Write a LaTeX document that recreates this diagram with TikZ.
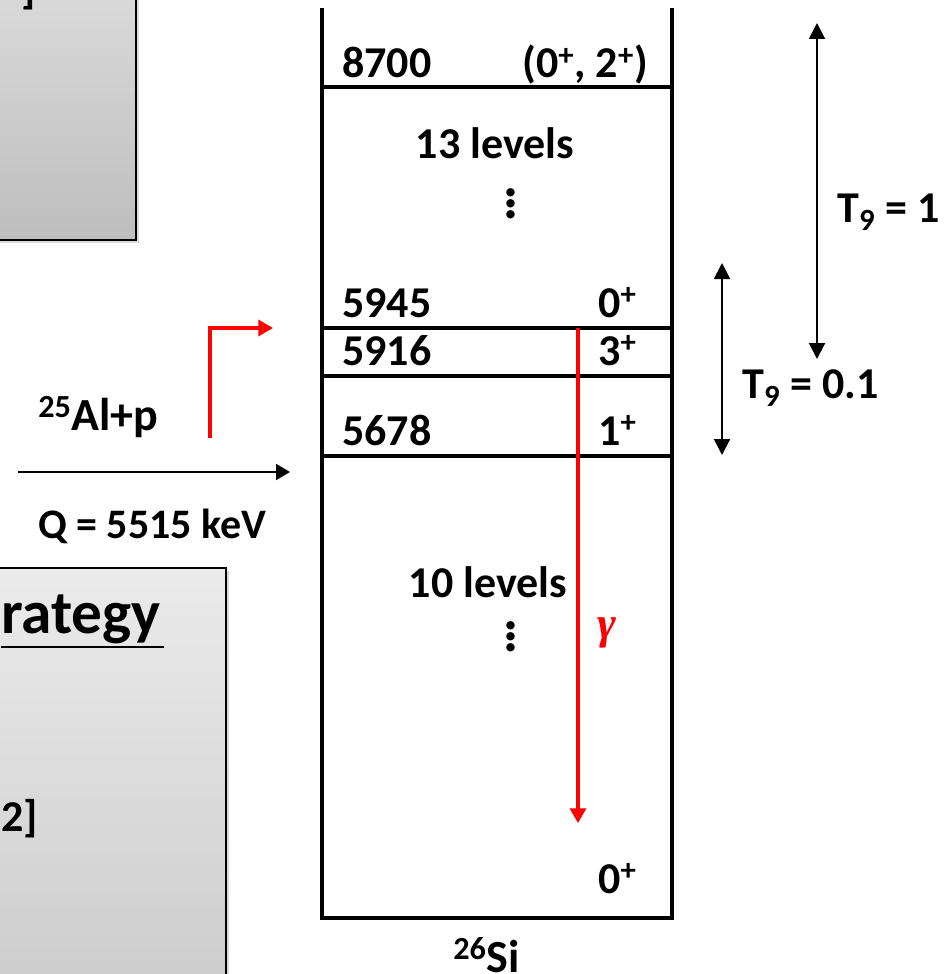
\documentclass[tikz,border=0pt]{standalone}
\usepackage{fontspec}
\setmainfont{Carlito}
\newfontfamily\gammafont{Liberation Serif}
\usetikzlibrary{arrows.meta, positioning, shadows}

\definecolor{panelA}{HTML}{DCDCDC}
\definecolor{panelB}{HTML}{BEBEBE}
\definecolor{panelC}{HTML}{EBEBEB}
\definecolor{panelD}{HTML}{CBCBCB}

\begin{document}
\begin{tikzpicture}[
    x=0.75pt, y=-0.75pt,
    lvl/.style={font=\fontsize{33}{38}\selectfont\bfseries, inner sep=0pt},
    big/.style={font=\fontsize{34.5}{40}\selectfont\bfseries, inner sep=0pt},
    note/.style={font=\fontsize{31.5}{36}\selectfont\bfseries, inner sep=0pt},
    temp/.style={font=\fontsize{33}{38}\selectfont\bfseries, inner sep=0pt},
    heading/.style={font=\fontsize{46}{52}\selectfont\bfseries, inner sep=0pt},
    vdotsbox/.style={font=\fontsize{42}{8.25}\selectfont\bfseries, inner sep=0pt, align=center},
    panel/.style={draw=black, line width=1.5pt, drop shadow={shadow xshift=2pt, shadow yshift=-2pt, opacity=0.3}},
    levelline/.style={line width=3pt},
    arrow/.style={line width=1.5pt, -{Triangle[length=10.5pt, width=12pt]}},
    spanarrow/.style={line width=1.5pt, {Triangle[length=12pt, width=12pt]}-{Triangle[length=12pt, width=12pt]}},
    redarrow/.style={red, line width=2.5pt, -{Triangle[length=11pt, width=12pt]}}
]
\useasboundingbox (0,0) rectangle (949,974);

% Side panels (cut by the frame)
\path[panel, top color=panelA, bottom color=panelB] (-30,-30) rectangle (136,240);
\path[panel, top color=panelC, bottom color=panelD] (-30,568) rectangle (226,1010);
\node[lvl, anchor=base west] (refA) at (21,4) {]};
\node[heading, anchor=base west] (strategy) at (1,633) {rategy};
\draw[line width=2.2pt] ([yshift=-10.5pt]strategy.base west) -- ([yshift=-10.5pt,xshift=2pt]strategy.base east);
\node[lvl, anchor=base west] (refB) at (1,831) {2]};

% Level scheme of 26Si
\draw[levelline] (322,8) -- (322,918) -- (672,918) -- (672,8);
\foreach \y in {87,328,376,456}
    \draw[levelline] (322,\y) -- (672,\y);

% Nodes
\node[lvl, anchor=base west] (e8700) at (342,78) {8700};
\node[lvl, anchor=base east] (j8700) at (648,78) {(0\textsuperscript{+}, 2\textsuperscript{+})};
\node[lvl, anchor=base] (upper) at (495,158) {13 levels};
\node[vdotsbox] (dotsA) at (511,204) {.\\.\\.};
\node[lvl, anchor=base west] (e5945) at (342,317) {5945};
\node[lvl, anchor=base east] (j5945) at (637,317) {0\textsuperscript{+}};
\node[lvl, anchor=base west] (e5916) at (342,365) {5916};
\node[lvl, anchor=base east] (j5916) at (637,365) {3\textsuperscript{+}};
\node[lvl, anchor=base west] (e5678) at (342,445) {5678};
\node[lvl, anchor=base east] (j5678) at (637,445) {1\textsuperscript{+}};
\node[lvl, anchor=base] (lower) at (488,597) {10 levels};
\node[vdotsbox] (dotsB) at (511,637) {.\\.\\.};
\node[lvl, anchor=base east] (jgs) at (637,893) {0\textsuperscript{+}};
\node[big, anchor=base west] (si) at (453,972) {\textsuperscript{26}Si};

\node[big, anchor=base west] (entry) at (38,430) {\textsuperscript{25}Al+p};
\node[note, anchor=base west] (qval) at (38,538) {Q = 5515 keV};
\node[temp, anchor=base west] (tone) at (837,222) {T\textsubscript{9} = 1};
\node[temp, anchor=base west] (ttenth) at (742,398) {T\textsubscript{9} = 0.1};
\node[red, font=\fontsize{34}{40}\gammafont\bfseries\itshape, inner sep=0pt] (gam) at (607,633) {γ};

% Coordinates
\coordinate (qstart) at (18,472);
\coordinate (qend) at (290,472);
\coordinate (capture) at (210,438);
\coordinate (resonance) at (273,328);
\coordinate (gtop) at (578,328);
\coordinate (gbot) at (578,823);
\coordinate (oneTop) at (817,23);
\coordinate (oneBot) at (817,359);
\coordinate (tenthTop) at (722,263);
\coordinate (tenthBot) at (722,455);

% Arrows
\draw[arrow] (qstart) -- (qend);
\draw[redarrow] (capture) |- (resonance);
\draw[redarrow] (gtop) -- (gbot);
\draw[spanarrow] (oneTop) -- (oneBot);
\draw[spanarrow] (tenthTop) -- (tenthBot);

\end{tikzpicture}
\end{document}
